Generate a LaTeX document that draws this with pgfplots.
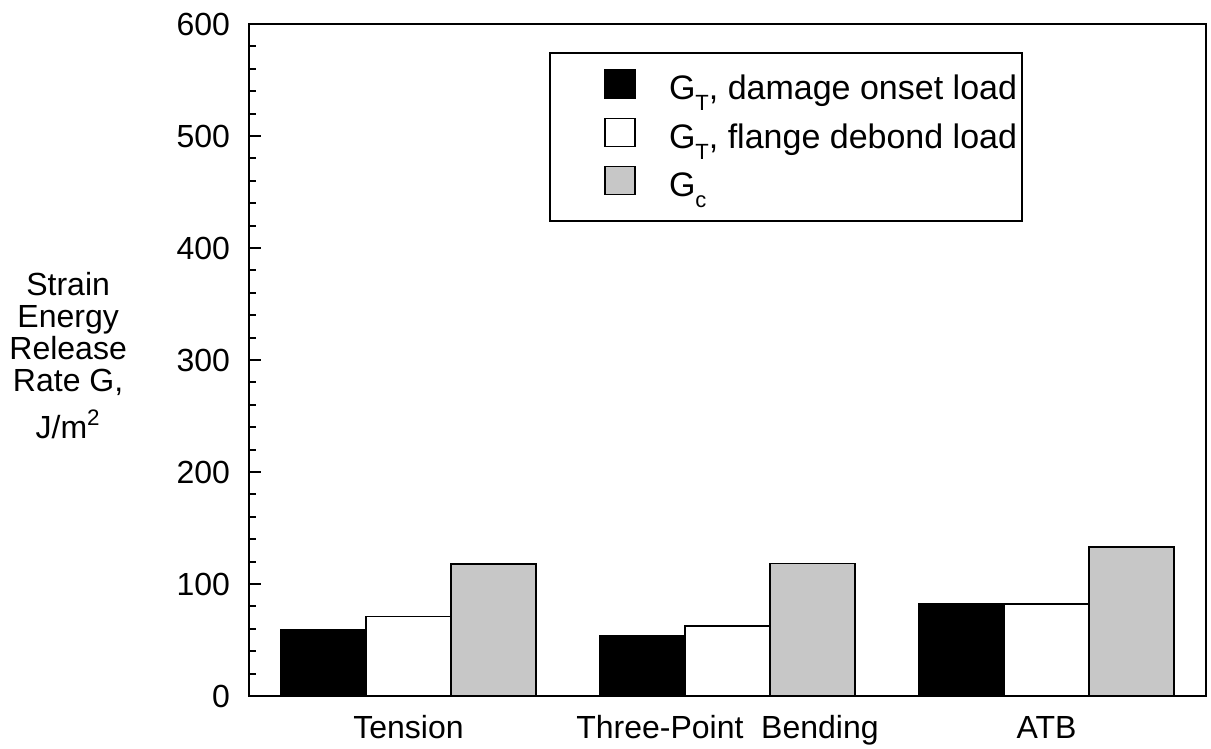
\documentclass[border=0pt]{standalone}
\usepackage{fontspec}
\setmainfont{Liberation Sans}
\usepackage{pgfplots}
\pgfplotsset{compat=1.18}

\newcommand{\sub}[1]{\raisebox{-5.5pt}{\fontsize{11}{11}\selectfont #1}}

\begin{document}
\fontsize{16}{16}\selectfont
\begin{tikzpicture}
\begin{axis}[
    scale only axis,
    width=478.5pt, height=336pt,
    xmin=-0.5, xmax=2.5,
    ymin=0, ymax=600,
    clip=false,
    ybar=0pt, bar width=0.2667,
    xtick={0,1,2},
    xticklabels={Tension, Three-Point\ \ Bending, ATB},
    x tick style={draw=none},
    ytick={0,100,...,600},
    minor y tick num=4,
    ytick pos=left,
    tick align=inside,
    major tick length=6pt, minor tick length=3.5pt,
    y tick style={line width=1pt, black},
    axis line style={line width=1.2pt},
    /pgf/number format/assume math mode=true,
    tick label style={font=\fontsize{16}{16}\selectfont},
    yticklabel style={xshift=-4pt},
    xticklabel style={yshift=-4pt, text height=11.5pt, text depth=3.5pt},
    every axis plot post/.append style={
        line width=0.7pt,
        legend image code/.code={
            \path[draw=none, fill=none] (0pt,-4pt) rectangle (57pt,10pt);
            \draw[##1, line width=0.7pt] (27pt,-4pt) rectangle (42pt,10pt);
        },
    },
    legend cell align=left,
    legend style={
        at={(0.3135,0.958)}, anchor=north west,
        draw=black, line width=1pt,
        font=\fontsize{17}{17}\selectfont,
        inner xsep=0.5pt, inner ysep=8pt,
        row sep=4.5pt,
    },
]
\addplot[draw=black, fill=black] coordinates {(0,59) (1,54) (2,82)};
\addplot[draw=black, fill=white] coordinates {(0,71) (1,62.5) (2,82)};
\addplot[draw=black, fill=black!22] coordinates {(0,118) (1,118.5) (2,133)};
\legend{{G\sub{T}, damage onset load}, {G\sub{T}, flange debond load}, {G\sub{c}}}
\node[align=center, font=\fontsize{16}{16}\selectfont]
    at (rel axis cs:-0.189,0.507)
    {Strain\\Energy\\Release\\Rate G,\\[6.5pt]J/m\textsuperscript{2}};
\end{axis}
\pgfresetboundingbox
\path (current axis.south west) ++(-124.5pt,-26pt) coordinate (bl);
\path (current axis.north east) ++(2.5pt,12pt) coordinate (tr);
\path (bl) rectangle (tr);
\end{tikzpicture}
\end{document}
